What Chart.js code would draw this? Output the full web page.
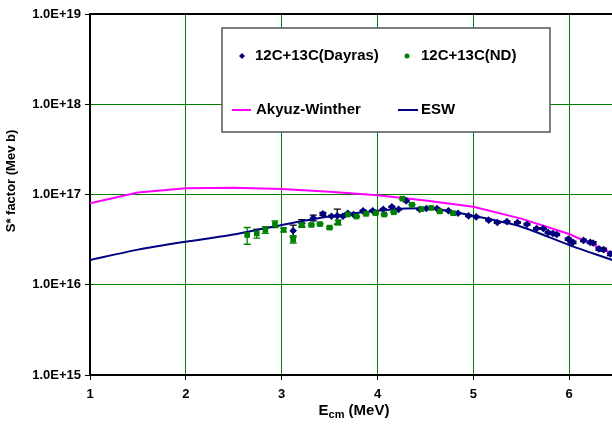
<!DOCTYPE html>
<html>
<head>
<meta charset="utf-8">
<script src="https://cdn.jsdelivr.net/npm/chart.js@4.4.1/dist/chart.umd.min.js"></script>
<style>
html,body{margin:0;padding:0;overflow:hidden;background:#fff;}
#wrap{width:680px;height:425px;}
</style>
</head>
<body>
<div id="wrap"><canvas id="c" width="680" height="425"></canvas></div>
<script>
// ---- data ----
const awE = [1.0, 1.5, 2.0, 2.5, 3.0, 3.5, 4.0, 4.5, 5.0, 5.5, 6.0, 6.5, 7.0];
const awS = [8.0e16, 1.05e17, 1.17e17, 1.19e17, 1.15e17, 1.07e17, 9.8e16, 8.6e16, 7.3e16, 5.4e16, 3.65e16, 2.1e16, 1.2e16];

const eswE = [1.0, 1.5, 2.0, 2.5, 3.0, 3.5, 4.0, 4.3, 4.6, 5.0, 5.5, 6.0, 6.5, 7.0];
const eswS = [1.88e16, 2.45e16, 3.0e16, 3.6e16, 4.6e16, 5.7e16, 6.6e16, 7.0e16, 6.95e16, 5.8e16, 4.4e16, 2.75e16, 1.8e16, 1.15e16];

const dayrasE = [3.12, 3.21, 3.33, 3.43, 3.52, 3.58, 3.64, 3.69, 3.75, 3.85, 3.95, 4.06, 4.15, 4.22, 4.30, 4.44, 4.51, 4.62, 4.74, 4.84, 4.95, 5.03, 5.16, 5.25, 5.35, 5.46, 5.56, 5.66, 5.73, 5.78, 5.83, 5.87, 5.99, 6.02, 6.04, 6.15, 6.22, 6.25, 6.31, 6.36, 6.43];
const dayrasS = [3.97e16, 4.8e16, 5.5e16, 6.1e16, 5.75e16, 5.8e16, 5.75e16, 6.2e16, 6.0e16, 6.6e16, 6.6e16, 6.85e16, 7.3e16, 6.85e16, 8.5e16, 6.85e16, 7.0e16, 7.0e16, 6.6e16, 6.2e16, 5.8e16, 5.65e16, 5.2e16, 4.9e16, 5.0e16, 4.9e16, 4.68e16, 4.2e16, 4.2e16, 3.8e16, 3.7e16, 3.6e16, 3.2e16, 3.0e16, 2.95e16, 3.1e16, 2.95e16, 2.9e16, 2.5e16, 2.45e16, 2.2e16];
const dayrasErr = [0.6e16, 0.45e16, 0.4e16, 0.25e16, 0.1e16, 1.1e16, 0.1e16, 0.1e16, 0.1e16, 0.1e16, 0.1e16, 0.1e16, 0.1e16, 0.1e16, 0.2e16, 0.1e16, 0.1e16, 0.1e16, 0.1e16, 0.1e16, 0.1e16, 0.1e16, 0.1e16, 0.1e16, 0.1e16, 0.1e16, 0.1e16, 0.1e16, 0.1e16, 0.1e16, 0.1e16, 0.1e16, 0.1e16, 0.1e16, 0.1e16, 0.1e16, 0.1e16, 0.1e16, 0.1e16, 0.1e16, 0.1e16];

const ndE = [2.64, 2.74, 2.83, 2.93, 3.02, 3.12, 3.21, 3.31, 3.40, 3.50, 3.59, 3.69, 3.78, 3.88, 3.98, 4.07, 4.17, 4.26, 4.36, 4.46, 4.56, 4.65, 4.79];
const ndS = [3.56e16, 3.7e16, 4.05e16, 4.7e16, 4.05e16, 3.2e16, 4.6e16, 4.6e16, 4.7e16, 4.3e16, 4.9e16, 6.0e16, 5.7e16, 6.1e16, 6.2e16, 6.0e16, 6.35e16, 9.0e16, 7.7e16, 6.9e16, 7.1e16, 6.5e16, 6.2e16];
const ndErr = [0.75e16, 0.42e16, 0.35e16, 0.4e16, 0.2e16, 0.3e16, 0.15e16, 0.1e16, 0.1e16, 0.1e16, 0.3e16, 0.1e16, 0.1e16, 0.1e16, 0.1e16, 0.1e16, 0.1e16, 0.1e16, 0.1e16, 0.1e16, 0.1e16, 0.1e16, 0.1e16];

const yTickExponents = [15, 16, 17, 18, 19];
const xTicks = [1, 2, 3, 4, 5, 6, 7];

const seriesLabels = ['12C+13C(Dayras)', '12C+13C(ND)', 'Akyuz-Winther', 'ESW'];

// ---- build ----
const zip = (xs, ys) => xs.map((x, i) => ({x: x, y: ys[i]}));
const FONT = '"Liberation Sans", Arial, sans-serif';
const NAVY = '#000080', GREEN = '#008000', MAG = '#FF00FF';

const errorBars = {
  id: 'errorBars',
  beforeDatasetsDraw(chart) {
    const ctx = chart.ctx, xs = chart.scales.x, ys = chart.scales.y, a = chart.chartArea;
    ctx.save();
    ctx.beginPath(); ctx.rect(a.left, a.top, a.right - a.left, a.bottom - a.top); ctx.clip();
    chart.data.datasets.forEach(ds => {
      if (!ds.errors) return;
      ctx.strokeStyle = ds.errorColor; ctx.lineWidth = 1.3;
      ds.data.forEach((p, i) => {
        const e = ds.errors[i];
        const px = xs.getPixelForValue(p.x);
        const y1 = ys.getPixelForValue(p.y + e), y2 = ys.getPixelForValue(p.y - e);
        ctx.beginPath();
        ctx.moveTo(px, y1); ctx.lineTo(px, y2);
        ctx.moveTo(px - 3.5, y1); ctx.lineTo(px + 3.5, y1);
        ctx.moveTo(px - 3.5, y2); ctx.lineTo(px + 3.5, y2);
        ctx.stroke();
      });
    });
    ctx.restore();
  }
};

const decor = {
  id: 'decor',
  afterDraw(chart) {
    const ctx = chart.ctx, a = chart.chartArea;
    ctx.save();
    // top frame line
    ctx.strokeStyle = '#000'; ctx.lineWidth = 2;
    ctx.beginPath(); ctx.moveTo(a.left - 1, a.top); ctx.lineTo(a.right, a.top); ctx.stroke();

    // legend box
    const L = {x: 222, y: 28, w: 328, h: 104};
    ctx.fillStyle = '#fff';
    ctx.fillRect(L.x, L.y, L.w, L.h);
    ctx.strokeStyle = '#555'; ctx.lineWidth = 1.5;
    ctx.strokeRect(L.x, L.y, L.w, L.h);
    const ds = chart.data.datasets;
    ctx.font = 'bold 15px ' + FONT;
    ctx.fillStyle = '#000'; ctx.textBaseline = 'middle'; ctx.textAlign = 'left';
    const row1 = 56, row2 = 110;
    // Dayras marker (diamond)
    ctx.fillStyle = NAVY;
    ctx.beginPath(); ctx.moveTo(242, row1 - 3); ctx.lineTo(245, row1); ctx.lineTo(242, row1 + 3); ctx.lineTo(239, row1); ctx.closePath(); ctx.fill();
    ctx.fillStyle = '#000'; ctx.fillText(ds[0].label, 255, row1);
    // ND marker
    ctx.fillStyle = GREEN;
    ctx.beginPath(); ctx.arc(407, row1, 2.5, 0, Math.PI * 2); ctx.fill();
    ctx.fillStyle = '#000'; ctx.fillText(ds[1].label, 421, row1);
    // Line samples
    ctx.lineWidth = 2;
    ctx.strokeStyle = MAG; ctx.beginPath(); ctx.moveTo(232, row2); ctx.lineTo(251, row2); ctx.stroke();
    ctx.fillText(ds[2].label, 256, row2);
    ctx.strokeStyle = NAVY; ctx.beginPath(); ctx.moveTo(398, row2); ctx.lineTo(418, row2); ctx.stroke();
    ctx.fillText(ds[3].label, 421, row2);

    // x axis title with subscript
    const cx = 354, by = 415;
    ctx.textBaseline = 'alphabetic';
    ctx.font = 'bold 15px ' + FONT;
    const wE = ctx.measureText('E').width;
    const wRest = ctx.measureText(' (MeV)').width;
    ctx.font = 'bold 11px ' + FONT;
    const wSub = ctx.measureText('cm').width;
    let sx = cx - (wE + wSub + wRest) / 2;
    ctx.font = 'bold 15px ' + FONT; ctx.fillText('E', sx, by);
    ctx.font = 'bold 11px ' + FONT; ctx.fillText('cm', sx + wE, by + 3);
    ctx.font = 'bold 15px ' + FONT; ctx.fillText(' (MeV)', sx + wE + wSub, by);

    // y axis title
    ctx.translate(11, 181); ctx.rotate(-Math.PI / 2);
    ctx.textAlign = 'center'; ctx.textBaseline = 'middle';
    ctx.font = 'bold 13px ' + FONT;
    ctx.fillText('S* factor (Mev b)', 0, 0);
    ctx.restore();
  }
};

new Chart(document.getElementById('c'), {
  type: 'scatter',
  data: {
    datasets: [
      {label: seriesLabels[0], data: zip(dayrasE, dayrasS), errors: dayrasErr, errorColor: '#000',
       pointStyle: 'rectRot', pointRadius: 3.8, backgroundColor: NAVY, borderColor: NAVY, borderWidth: 0, showLine: false, order: 1},
      {label: seriesLabels[1], data: zip(ndE, ndS), errors: ndErr, errorColor: GREEN,
       pointStyle: 'rect', pointRadius: 4, backgroundColor: GREEN, borderColor: GREEN, borderWidth: 0, showLine: false, order: 0},
      {label: seriesLabels[2], data: zip(awE, awS), showLine: true, borderColor: MAG, borderWidth: 2,
       pointRadius: 0, tension: 0, order: 3},
      {label: seriesLabels[3], data: zip(eswE, eswS), showLine: true, borderColor: NAVY, borderWidth: 2,
       pointRadius: 0, tension: 0.25, order: 2}
    ]
  },
  options: {
    responsive: false,
    animation: false,
    layout: {padding: {top: 14, right: 15, left: 0, bottom: 0}},
    plugins: {legend: {display: false}, tooltip: {enabled: false}},
    scales: {
      x: {
        type: 'linear', min: 1, max: 7,
        afterBuildTicks: s => { s.ticks = xTicks.map(v => ({value: v})); },
        afterFit: s => { s.height = 50; },
        grid: {color: GREEN, lineWidth: 1, tickColor: '#000', tickLength: 5, drawTicks: true},
        border: {display: true, color: '#000', width: 2},
        ticks: {color: '#000', font: {family: FONT, size: 13, weight: 'bold'}, padding: 7, maxRotation: 0,
                callback: v => String(v)}
      },
      y: {
        type: 'logarithmic', min: 1e15, max: 1e19,
        afterBuildTicks: s => { s.ticks = yTickExponents.map(e => ({value: Math.pow(10, e)})); },
        afterFit: s => { s.width = 90; },
        grid: {color: GREEN, lineWidth: 1, tickColor: '#000', tickLength: 5, drawTicks: true},
        border: {display: true, color: '#000', width: 2},
        ticks: {color: '#000', font: {family: FONT, size: 13, weight: 'bold'}, padding: 4,
                callback: v => '1.0E+' + Math.round(Math.log10(v))}
      }
    }
  },
  plugins: [errorBars, decor]
});
</script>
</body>
</html>
